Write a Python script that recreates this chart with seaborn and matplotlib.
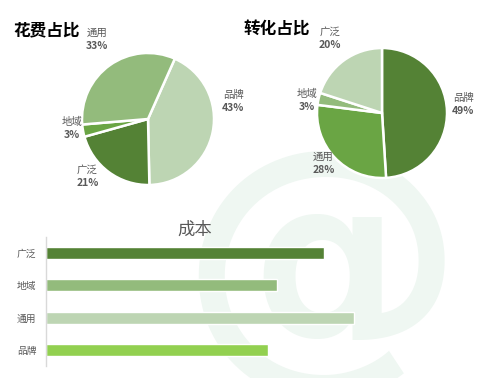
import matplotlib
matplotlib.use("Agg")
import matplotlib.pyplot as plt
import seaborn as sns
import pandas as pd

# data
spend_labels = ["品牌", "广泛", "地域", "通用"]
spend_pct = [43, 21, 3, 33]
conv_labels = ["品牌", "通用", "地域", "广泛"]
conv_pct = [49, 28, 3, 20]
cost_cats = ["广泛", "地域", "通用", "品牌"]
cost_vals = [278, 231, 308, 222]

dark = "#548235"
mid = "#6aa544"
soft = "#93bb7c"
pale = "#bdd5b3"
lime = "#92d050"
grey = "#595959"

sns.set_style("white")
plt.rcParams["font.family"] = ["Noto Sans CJK SC", "DejaVu Sans"]

W, H = 500, 378
fig = plt.figure(figsize=(5, 3.78), dpi=100)

# watermark
fig.text(322 / W, 1 - 272 / H, "@", fontsize=205, color="#eff7f2",
         ha="center", va="center", zorder=-1, family="DejaVu Sans",
         fontweight="bold")


def pie_axes(cx, cy, r):
    ax = fig.add_axes([(cx - r) / W, 1 - (cy + r) / H, 2 * r / W, 2 * r / H])
    ax.set_facecolor("none")
    return ax


def draw_pie(ax, labels, pcts, colors, start, label_pos):
    ax.pie(pcts, colors=colors, startangle=start, counterclock=False,
           wedgeprops=dict(edgecolor="white", linewidth=1.8))
    ax.set_xlim(-1, 1)
    ax.set_ylim(-1, 1)
    for name, p, (x, y) in zip(labels, pcts, label_pos):
        ax.text(x, y + 0.1, name, ha="center", va="center", fontsize=7.5, color=grey)
        ax.text(x, y - 0.1, f"{p}%", ha="center", va="center", fontsize=7.5,
                color=grey, fontweight="bold")


ax1 = pie_axes(148, 119, 66)
draw_pie(ax1, spend_labels, spend_pct, [pale, dark, mid, soft], 66,
         [(1.29, 0.26), (-0.92, -0.87), (-1.15, -0.15), (-0.77, 1.2)])
fig.text(13 / W, 1 - 30 / H, "花费占比", fontsize=12, fontweight="bold",
         color="black", va="center")

ax2 = pie_axes(382, 113, 65)
draw_pie(ax2, conv_labels, conv_pct, [dark, mid, soft, pale], 90,
         [(1.25, 0.13), (-0.9, -0.77), (-1.15, 0.2), (-0.8, 1.15)])
fig.text(243 / W, 1 - 30 / H, "转化占比", fontsize=12, fontweight="bold",
         color="black", va="center")

# bar chart
ax3 = fig.add_axes([46 / W, 12 / H, 414 / W, 129 / H])
ax3.set_facecolor("none")
df = pd.DataFrame({"cat": cost_cats, "val": cost_vals})
sns.barplot(data=df, x="val", y="cat", hue="cat", palette=[dark, soft, pale, lime],
            width=0.37, legend=False, ax=ax3, saturation=1)
ax3.set_xlim(0, 414)
ax3.set_ylim(3.5, -0.5)
ax3.set_xlabel("")
ax3.set_ylabel("")
ax3.set_xticks([])
ax3.tick_params(axis="y", length=0, labelsize=7, labelcolor=grey, pad=7)
for s in ["top", "right", "bottom"]:
    ax3.spines[s].set_visible(False)
ax3.spines["left"].set_color("#d9d9d9")
ax3.spines["left"].set_linewidth(1)
fig.text(195 / W, 1 - 230 / H, "成本", fontsize=12.5, color=grey,
         ha="center", va="center")

fig.savefig("out.png", dpi=100)
